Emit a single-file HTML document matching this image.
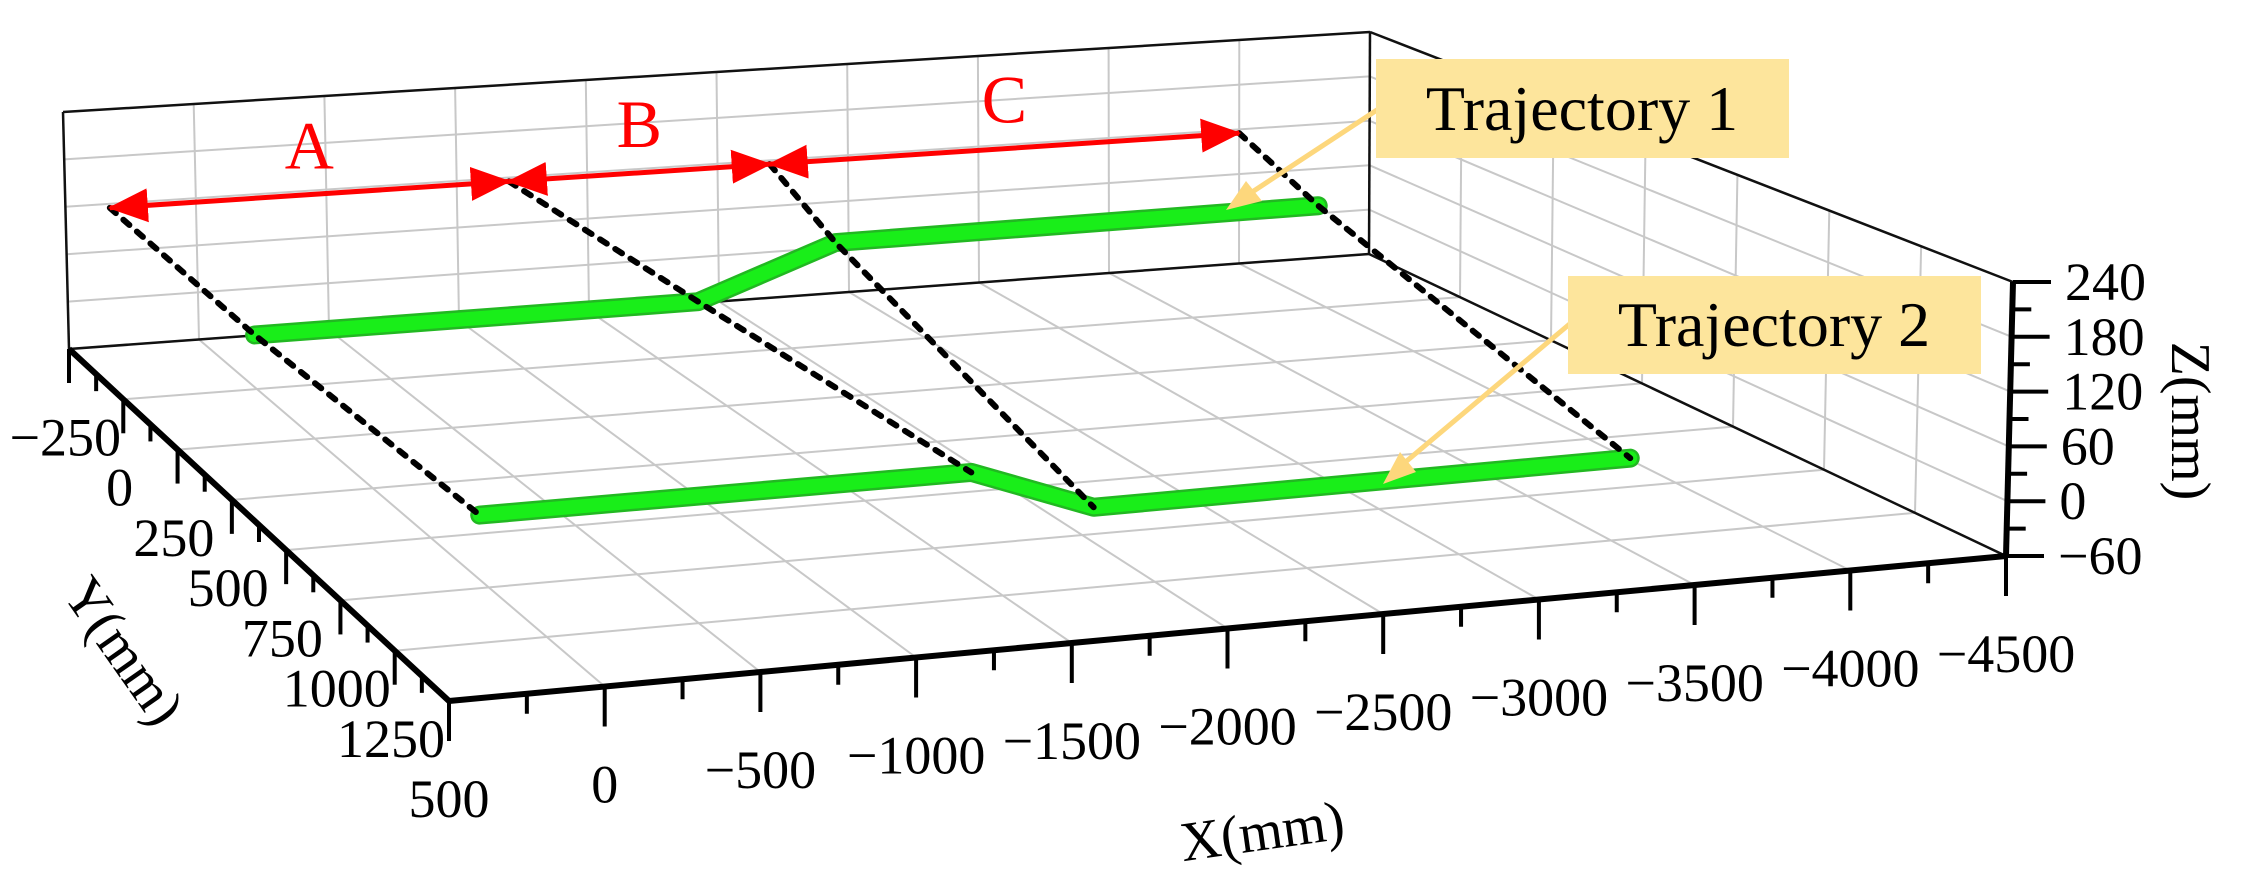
<!DOCTYPE html>
<html><head><meta charset="utf-8"><style>
html,body{margin:0;padding:0;background:#fff;}
svg{display:block;font-family:"Liberation Serif",serif;}
</style></head><body>
<svg id="chart" width="2244" height="886" viewBox="0 0 2244 886" xmlns="http://www.w3.org/2000/svg">
<defs>
<marker id="rh" markerWidth="40" markerHeight="34" refX="9.5" refY="5" orient="auto-start-reverse" markerUnits="userSpaceOnUse" viewBox="0 0 10 10" preserveAspectRatio="none"><path d="M0,0 L10,5 L0,10 z" fill="#ff0000"/></marker>
</defs>
<g id="grid"></g>
<g id="frame"></g>
<g id="series"></g>
<g id="annot"></g>
<g id="axes"></g>
<g id="callouts">
  <line x1="1380" y1="108" x2="1240" y2="200" stroke="#fdd77c" stroke-width="5"/>
  <polygon points="1226,210 1246,181 1262,201" fill="#fdd77c"/>
  <rect x="1376" y="59" width="413" height="99" fill="#fde59c"/>
  <text x="1582" y="130" font-size="64" text-anchor="middle" fill="#000">Trajectory 1</text>
  <line x1="1572" y1="322" x2="1396" y2="470" stroke="#fdd77c" stroke-width="5"/>
  <polygon points="1383,484 1400,452 1416,472" fill="#fdd77c"/>
  <rect x="1568" y="276" width="413" height="98" fill="#fde59c"/>
  <text x="1774" y="346" font-size="64" text-anchor="middle" fill="#000">Trajectory 2</text>
</g>
</svg>
<script>
// ---- data ----
const xTicks = [500,0,-500,-1000,-1500,-2000,-2500,-3000,-3500,-4000,-4500];
const yTicks = [-250,0,250,500,750,1000,1250];
const zTicks = [-60,0,60,120,180,240];
const traj1X = [210,-1400,-1900,-3650];
const traj1Z = [70,70,130,132];
const traj1Y = 0;
const traj2X = [210,-1400,-1800,-3560];
const traj2Z = [78,78,28,30];
const traj2Y = 1000;
const segX = [330,-1200,-2200,-4000];
const segZ = 115;
const segLabels = ['A','B','C'];

// ---- projection ----
const XR=[500,-4500], YR=[-500,1250], ZR=[-60,240];
const C={BL:[69,349],BR:[1369,254],FL:[449,701],FR:[2006,556]};
const H={BL:237,BR:222,FL:285,FR:274};
const D={BL:-6,BR:1,FL:-8,FR:7};
function bil(a,b,c,d,u,v){return a*(1-u)*(1-v)+b*u*(1-v)+c*(1-u)*v+d*u*v;}
function P(X,Y,Z){
  const u=(XR[0]-X)/(XR[0]-XR[1]), v=(Y-YR[0])/(YR[1]-YR[0]), w=(Z-ZR[0])/(ZR[1]-ZR[0]);
  const bx=bil(C.BL[0],C.BR[0],C.FL[0],C.FR[0],u,v);
  const by=bil(C.BL[1],C.BR[1],C.FL[1],C.FR[1],u,v);
  const h=bil(H.BL,H.BR,H.FL,H.FR,u,v);
  const dx=bil(D.BL,D.BR,D.FL,D.FR,u,v);
  return [bx+w*dx, by-w*h];
}
const NS='http://www.w3.org/2000/svg';
function mk(parent,tag,attrs,name){
  const el=document.createElementNS(NS,tag);
  for(const k in attrs) el.setAttribute(k,attrs[k]);
  
  
  parent.appendChild(el); return el;
}
function line(parent,a,b,st,sw,name,extra){
  const at={x1:a[0],y1:a[1],x2:b[0],y2:b[1],stroke:st,'stroke-width':sw};
  if(extra) Object.assign(at,extra);
  return mk(parent,'line',at,name);
}
const G=document.getElementById('grid'), F=document.getElementById('frame'),
      S=document.getElementById('series'), A=document.getElementById('annot'),
      AX=document.getElementById('axes');
const gc='#c8c8c8', gw=2;
for(let X=500;X>=-4500;X-=500) line(G,P(X,YR[0],ZR[0]),P(X,YR[0],ZR[1]),gc,gw,'back-wall-gridline-x');
for(const Z of zTicks) line(G,P(XR[0],YR[0],Z),P(XR[1],YR[0],Z),gc,gw,'back-wall-gridline-z');
for(let X=500;X>=-4500;X-=500) line(G,P(X,YR[0],ZR[0]),P(X,YR[1],ZR[0]),gc,gw,'floor-gridline-x');
for(let Y=-500;Y<=1250;Y+=250) line(G,P(XR[0],Y,ZR[0]),P(XR[1],Y,ZR[0]),gc,gw,'floor-gridline-y');
for(let Y=-500;Y<=1250;Y+=250) line(G,P(XR[1],Y,ZR[0]),P(XR[1],Y,ZR[1]),gc,gw,'side-wall-gridline-y');
for(const Z of zTicks) line(G,P(XR[1],YR[0],Z),P(XR[1],YR[1],Z),gc,gw,'side-wall-gridline-z');
const fe=[[[XR[0],YR[0],ZR[1]],[XR[1],YR[0],ZR[1]]],[[XR[0],YR[0],ZR[0]],[XR[0],YR[0],ZR[1]]],
 [[XR[0],YR[0],ZR[0]],[XR[1],YR[0],ZR[0]]],[[XR[1],YR[0],ZR[0]],[XR[1],YR[0],ZR[1]]],
 [[XR[1],YR[0],ZR[1]],[XR[1],YR[1],ZR[1]]],[[XR[1],YR[0],ZR[0]],[XR[1],YR[1],ZR[0]]]];
for(const e of fe) line(F,P(...e[0]),P(...e[1]),'#111',2.5,'frame-edge');
function traj(xs,zs,y,name){
  const pts=xs.map((x,i)=>P(x,y,zs[i]).join(',')).join(' ');
  mk(S,'polyline',{points:pts,fill:'none',stroke:'#22b822','stroke-width':19,'stroke-linecap':'round','stroke-linejoin':'round'},name+'-edge');
  mk(S,'polyline',{points:pts,fill:'none',stroke:'#19ee19','stroke-width':14,'stroke-linecap':'round','stroke-linejoin':'round'},name);
}
traj(traj1X,traj1Z,traj1Y,'trajectory-1');
traj(traj2X,traj2Z,traj2Y,'trajectory-2');
for(let i=0;i<segX.length;i++){
  const p0=P(segX[i],YR[0],segZ), p1=P(traj1X[i],traj1Y,traj1Z[i]), p2=P(traj2X[i],traj2Y,traj2Z[i]);
  mk(A,'polyline',{points:[p0,p1,p2].map(p=>p.join(',')).join(' '),fill:'none',stroke:'#000','stroke-width':6,'stroke-dasharray':'8 10','stroke-linecap':'round'},'dashed-connector');
}
for(let i=0;i<segLabels.length;i++){
  const a=P(segX[i],YR[0],segZ), b=P(segX[i+1],YR[0],segZ);
  line(A,a,b,'#ff0000',5,'segment-arrow-'+segLabels[i].toLowerCase(),{'marker-start':'url(#rh)','marker-end':'url(#rh)'});
  const m=P((segX[i]+segX[i+1])/2,YR[0],segZ);
  const t=mk(A,'text',{x:m[0],y:m[1]-26,'font-size':68,'text-anchor':'middle',fill:'#ff0000'},'segment-label-'+segLabels[i].toLowerCase());
  t.textContent=segLabels[i];
}
line(AX,P(XR[0],YR[1],ZR[0]),P(XR[1],YR[1],ZR[0]),'#000',6,'x-axis-line');
line(AX,P(XR[0],YR[0],ZR[0]),P(XR[0],YR[1],ZR[0]),'#000',6,'y-axis-line');
line(AX,P(XR[1],YR[1],ZR[0]),P(XR[1],YR[1],ZR[1]),'#000',6,'z-axis-line');
for(let X=500;X>=-4500;X-=250){
  const p=P(X,YR[1],ZR[0]); const major=(X%500===0);
  line(AX,p,[p[0],p[1]+(major?40:20)],'#000',4,'x-axis-tick');
}
for(let Y=-500;Y<=1250;Y+=125){
  const p=P(XR[0],Y,ZR[0]); const major=(Y%250===0);
  line(AX,p,[p[0],p[1]+(major?34:17)],'#000',4,'y-axis-tick');
}
for(let Z=-60;Z<=240;Z+=30){
  const p=P(XR[1],YR[1],Z); const major=(Z%60===0);
  line(AX,p,[p[0]+(major?38:19),p[1]],'#000',4,'z-axis-tick');
}
function lab(s){return String(s).replace('-','\u2212');}
for(const X of xTicks){
  const p=P(X,YR[1],ZR[0]);
  const t=mk(AX,'text',{x:p[0],y:p[1]+116,'font-size':54,'text-anchor':'middle',fill:'#000'},'x-tick-label');
  t.textContent=lab(X);
}
for(const Y of yTicks){
  const p=P(XR[0],Y,ZR[0]);
  const t=mk(AX,'text',{x:p[0]-58,y:p[1]+56,'font-size':54,'text-anchor':'middle',fill:'#000'},'y-tick-label');
  t.textContent=lab(Y);
}
for(const Z of zTicks){
  const p=P(XR[1],YR[1],Z);
  const t=mk(AX,'text',{x:p[0]+52,y:p[1]+18,'font-size':54,'text-anchor':'start',fill:'#000'},'z-tick-label');
  t.textContent=lab(Z);
}
const xt=mk(AX,'text',{x:1262,y:850,'font-size':56,'text-anchor':'middle',transform:'rotate(-8 1262 830)'},'x-axis-title'); xt.textContent='X(mm)';
const yt=mk(AX,'text',{x:125,y:670,'font-size':56,'text-anchor':'middle',transform:'rotate(55 125 650)'},'y-axis-title'); yt.textContent='Y(mm)';
const zt=mk(AX,'text',{x:2192,y:441,'font-size':56,'text-anchor':'middle',transform:'rotate(90 2192 421)'},'z-axis-title'); zt.textContent='Z(mm)';
</script>
</body></html>
